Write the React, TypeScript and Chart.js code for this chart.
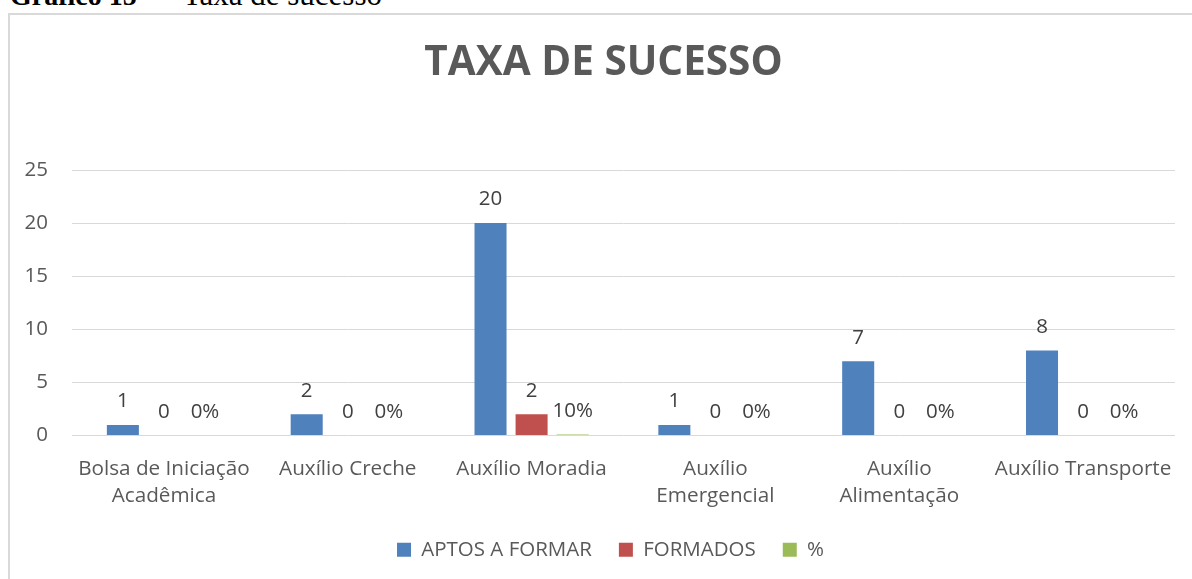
import React, { useEffect, useRef } from "react";
import { Chart, registerables } from "chart.js";

Chart.register(...registerables);

const categories: (string | string[])[] = [
  ["Bolsa de Iniciação", "Acadêmica"],
  "Auxílio Creche",
  "Auxílio Moradia",
  ["Auxílio", "Emergencial"],
  ["Auxílio", "Alimentação"],
  "Auxílio Transporte",
];
const aptosAFormar = [1, 2, 20, 1, 7, 8];
const formados = [0, 0, 2, 0, 0, 0];
const percentual = [0, 0, 0.1, 0, 0, 0];
const seriesNames = ["APTOS A FORMAR", "FORMADOS", "%"];
const yTicks = [0, 5, 10, 15, 20, 25];

const FONT = "'Open Sans', sans-serif";

const dataLabels = {
  id: "dataLabels",
  afterDatasetsDraw(chart: any) {
    const ctx = chart.ctx;
    ctx.save();
    ctx.font = `20.5px ${FONT}`;
    ctx.fillStyle = "#404040";
    ctx.textAlign = "center";
    ctx.textBaseline = "middle";
    chart.data.datasets.forEach((ds: any, di: number) => {
      const meta = chart.getDatasetMeta(di);
      meta.data.forEach((el: any, i: number) => {
        const v = ds.data[i];
        const txt = di === 2 ? `${Math.round(v * 100)}%` : String(v);
        ctx.fillText(txt, el.x, el.y - 23.5);
      });
    });
    ctx.restore();
  },
};

const shiftBoxes = {
  id: "shiftBoxes",
  afterLayout(chart: any) {
    if (chart.legend) {
      chart.legend.left += 11;
      chart.legend.right += 11;
    }
    if (chart.titleBlock) {
      chart.titleBlock.left += 4;
      chart.titleBlock.right += 4;
    }
  },
};

export default function App() {
  const ref = useRef<HTMLCanvasElement>(null);
  useEffect(() => {
    if (!ref.current) return;
    const chart = new Chart(ref.current, {
      type: "bar",
      data: {
        labels: categories as any,
        datasets: [
          { label: seriesNames[0], data: aptosAFormar, backgroundColor: "#4f81bd" },
          { label: seriesNames[1], data: formados, backgroundColor: "#c0504d" },
          { label: seriesNames[2], data: percentual, backgroundColor: "#9bbb59" },
        ],
      },
      options: {
        animation: false,
        responsive: false,
        maintainAspectRatio: false,
        datasets: { bar: { categoryPercentage: 0.67, barPercentage: 0.78 } },
        layout: { padding: { left: 14, right: 17, top: 0, bottom: 0 } },
        plugins: {
          tooltip: { enabled: false },
          title: {
            display: true,
            text: "TAXA DE SUCESSO",
            color: "#595959",
            font: { family: FONT, size: 40.5, weight: "bold", lineHeight: 1.2 },
            padding: { top: 24, bottom: 82.4 },
          },
          legend: {
            position: "bottom",
            labels: {
              color: "#595959",
              font: { family: FONT, size: 20.5 },
              boxWidth: 14,
              boxHeight: 14,
              padding: 27,
            },
          },
        },
        scales: {
          x: {
            grid: { display: false },
            border: { display: false },
            ticks: {
              color: "#595959",
              font: { family: FONT, size: 20.7, lineHeight: 1.3 },
              padding: 12,
              autoSkip: false,
              maxRotation: 0,
              minRotation: 0,
            },
            afterFit: (s: any) => {
              s.height = 77;
            },
          },
          y: {
            min: 0,
            max: 25,
            afterBuildTicks: (s: any) => {
              s.ticks = yTicks.map((v) => ({ value: v }));
            },
            grid: { color: "#d9d9d9", lineWidth: 1, drawTicks: false },
            border: { display: false },
            ticks: {
              color: "#595959",
              font: { family: FONT, size: 20.5 },
              padding: 24,
            },
            afterFit: (s: any) => {
              s.width = 48;
            },
          },
        },
      },
      plugins: [dataLabels, shiftBoxes],
    });
    return () => chart.destroy();
  }, []);

  return (
    <div
      style={{
        position: "fixed",
        left: 0,
        top: 0,
        width: 1192,
        height: 579,
        overflow: "hidden",
        background: "#fff",
      }}
    >
      <div
        style={{
          position: "absolute",
          left: 10,
          top: -20,
          fontFamily: "'Liberation Serif', 'Times New Roman', serif",
          fontSize: 31,
          lineHeight: "30px",
          whiteSpace: "pre",
          color: "#000",
        }}
      >
        <b style={{ fontSize: 28 }}>Gráfico 15</b>
        {"  –  Taxa de sucesso"}
      </div>
      <div
        style={{
          position: "absolute",
          left: 8,
          top: 13,
          width: 1210,
          height: 600,
          border: "2px solid #d9d9d9",
          boxSizing: "border-box",
        }}
      />
      <canvas
        ref={ref}
        width={1182}
        height={555}
        style={{ position: "absolute", left: 10, top: 15, width: 1182, height: 555 }}
      />
    </div>
  );
}
